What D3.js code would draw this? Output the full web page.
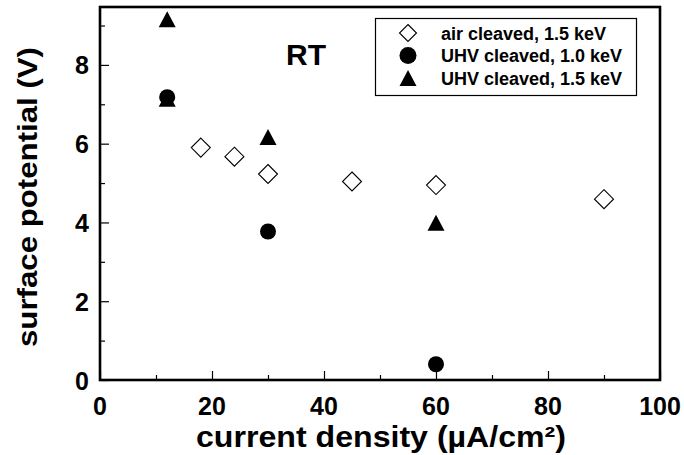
<!DOCTYPE html>
<html>
<head>
<meta charset="utf-8">
<script src="https://cdn.jsdelivr.net/npm/d3@7"></script>
<style>
  html, body { margin: 0; padding: 0; background: #fff; }
  svg { display: block; font-family: "Liberation Sans", Arial, Helvetica, sans-serif; font-weight: bold; }
</style>
</head>
<body>
<svg id="chart" width="684" height="455"></svg>
<script>
// Surface potential vs. current density at room temperature
const airX = [18, 24, 30, 45, 60, 90];
const airY = [5.90, 5.67, 5.23, 5.04, 4.95, 4.59];

const uhv10X = [12, 30, 60];
const uhv10Y = [7.18, 3.77, 0.40];

const uhv15X = [12, 12, 30, 60];
const uhv15Y = [9.16, 7.14, 6.17, 3.99];

const xMajorTicks = [0, 20, 40, 60, 80, 100];
const xMinorTicks = [10, 30, 50, 70, 90];
const yMajorTicks = [0, 2, 4, 6, 8];
const yMinorTicks = [1, 3, 5, 7, 9];

const seriesNames = ["air cleaved, 1.5 keV", "UHV cleaved, 1.0 keV", "UHV cleaved, 1.5 keV"];

const svg = d3.select("#chart");
const plotL = 100, plotR = 660, plotT = 7, plotB = 380;

const x = d3.scaleLinear().domain([0, 100]).range([plotL, plotR]);
const y = d3.scaleLinear().domain([0, 9.47]).range([plotB, plotT]);

// marker path builders (centered on 0,0)
const diamondPath = r => `M0,${-r}L${r},0L0,${r}L${-r},0Z`;
const trianglePath = (hw, hh) => `M0,${-hh}L${hw},${hh}L${-hw},${hh}Z`;

// axes with inward ticks
function axisGroup(axisFn, scale, ticks, size, transform) {
  const g = svg.append("g").attr("transform", transform)
    .call(axisFn(scale).tickValues(ticks).tickSize(-size).tickFormat(""));
  g.select(".domain").remove();
  g.selectAll(".tick line").attr("stroke", "#000").attr("stroke-width", 1.2);
  return g;
}
axisGroup(d3.axisBottom, x, xMajorTicks, 9, `translate(0,${plotB})`);
axisGroup(d3.axisBottom, x, xMinorTicks, 5, `translate(0,${plotB})`);
axisGroup(d3.axisLeft, y, yMajorTicks, 9, `translate(${plotL},0)`);
axisGroup(d3.axisLeft, y, yMinorTicks, 5, `translate(${plotL},0)`);

// tick labels
svg.append("g").selectAll("text").data(xMajorTicks).join("text")
  .attr("x", d => x(d)).attr("y", 415)
  .attr("text-anchor", "middle").attr("font-size", 25).text(d => d);
svg.append("g").selectAll("text").data(yMajorTicks).join("text")
  .attr("x", 89).attr("y", d => y(d) + 9.5)
  .attr("text-anchor", "end").attr("font-size", 25).text(d => d);

// frame
svg.append("rect")
  .attr("x", plotL).attr("y", plotT)
  .attr("width", plotR - plotL).attr("height", plotB - plotT)
  .attr("fill", "none").attr("stroke", "#000").attr("stroke-width", 2.6);

// axis titles
svg.append("text")
  .attr("x", 381).attr("y", 446.5)
  .attr("text-anchor", "middle").attr("font-size", 29)
  .attr("textLength", 370).attr("lengthAdjust", "spacingAndGlyphs")
  .text("current density (µA/cm²)");
svg.append("text")
  .attr("transform", `translate(37,197) rotate(-90)`)
  .attr("text-anchor", "middle").attr("font-size", 28)
  .attr("textLength", 300).attr("lengthAdjust", "spacingAndGlyphs")
  .text("surface potential (V)");

// RT annotation
svg.append("text")
  .attr("x", 286).attr("y", 65)
  .attr("font-size", 30).text("RT");

// data markers
svg.append("g").selectAll("path").data(d3.zip(airX, airY)).join("path")
  .attr("transform", d => `translate(${x(d[0])},${y(d[1])})`)
  .attr("d", diamondPath(9.5))
  .attr("fill", "#fff").attr("stroke", "#000").attr("stroke-width", 1.1);

svg.append("g").selectAll("path").data(d3.zip(uhv15X, uhv15Y)).join("path")
  .attr("transform", d => `translate(${x(d[0])},${y(d[1])})`)
  .attr("d", trianglePath(8.5, 8))
  .attr("fill", "#000");

svg.append("g").selectAll("circle").data(d3.zip(uhv10X, uhv10Y)).join("circle")
  .attr("cx", d => x(d[0])).attr("cy", d => y(d[1]))
  .attr("r", 8).attr("fill", "#000");

// legend
const lg = svg.append("g");
lg.append("rect")
  .attr("x", 375.5).attr("y", 18.5).attr("width", 261).attr("height", 77)
  .attr("fill", "#fff").attr("stroke", "#000").attr("stroke-width", 1.2);
const rowY = [33, 55.5, 78];
const mx = 408;
lg.append("path").attr("transform", `translate(${mx},${rowY[0]})`)
  .attr("d", diamondPath(8.5)).attr("fill", "#fff").attr("stroke", "#000").attr("stroke-width", 1.1);
lg.append("circle").attr("cx", mx).attr("cy", rowY[1]).attr("r", 8.5).attr("fill", "#000");
lg.append("path").attr("transform", `translate(${mx},${rowY[2]})`)
  .attr("d", trianglePath(8.5, 8)).attr("fill", "#000");
lg.selectAll("text.lab").data(seriesNames).join("text")
  .attr("class", "lab")
  .attr("x", 441).attr("y", (d, i) => rowY[i] + 6.5)
  .attr("font-size", 18).text(d => d);
</script>
</body>
</html>
